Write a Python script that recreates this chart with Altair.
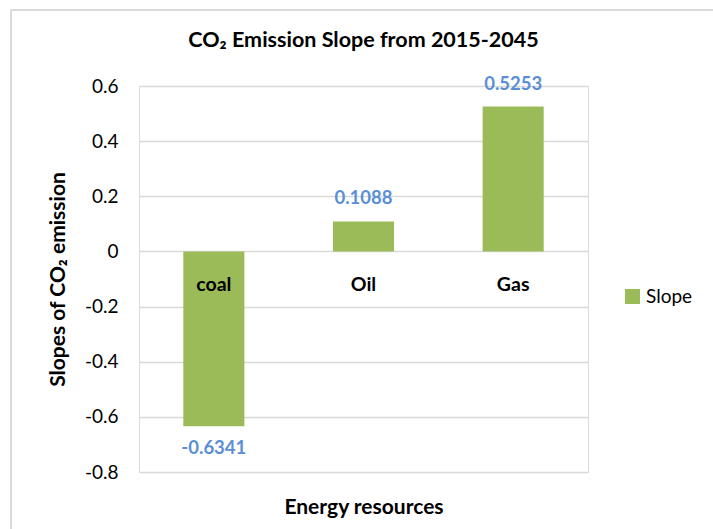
import altair as alt
import pandas as pd

# Slope of CO2 emission by energy resource, 2015-2045
resources = ["coal", "Oil", "Gas"]
slopes = [-0.6341, 0.1088, 0.5253]
series_name = "Slope"
y_ticks = [-0.8, -0.6, -0.4, -0.2, 0, 0.2, 0.4, 0.6]

df = pd.DataFrame({
    "resource": resources,
    "slope": slopes,
    "series": [series_name] * len(resources),
    "label": [f"{v:.4f}" for v in slopes],
    "zero": [0.0] * len(resources),
})

FONT = "Lato"
GREEN = "#9BBB59"
BLUE = "#5A8FD6"
FRAME = "#D9D9D9"

x_enc = alt.X(
    "resource:N",
    sort=resources,
    scale=alt.Scale(paddingInner=0.592, paddingOuter=0.296),
    axis=alt.Axis(
        title="Energy resources",
        labels=False,
        ticks=False,
        domain=False,
        grid=False,
        titleFont=FONT,
        titleFontSize=21,
        titleFontWeight="bold",
        titleColor="black",
        titlePadding=24,
    ),
)

y_scale = alt.Scale(domain=[-0.8, 0.6], nice=False, zero=False)

bars = alt.Chart(df).mark_bar(color=GREEN).encode(
    x=x_enc,
    y=alt.Y(
        "slope:Q",
        scale=y_scale,
        axis=alt.Axis(
            title="Slopes of CO₂ emission",
            values=y_ticks,
            labelExpr="datum.value == 0 ? '0' : replace(format(datum.value, '.1f'), '\u2212', '-')",
            grid=True,
            gridColor=FRAME,
            gridWidth=1.3,
            domain=False,
            ticks=False,
            labelPadding=21,
            labelFont=FONT,
            labelFontSize=19,
            labelColor="black",
            titleFont=FONT,
            titleFontSize=21,
            titleFontWeight="bold",
            titleColor="black",
            titlePadding=16,
        ),
    ),
    color=alt.Color(
        "series:N",
        scale=alt.Scale(range=[GREEN]),
        legend=alt.Legend(
            title=None,
            orient="none",
            legendX=484,
            legendY=201,
            symbolType="square",
            symbolSize=225,
            symbolStrokeWidth=0,
            labelFont=FONT,
            labelFontSize=19,
            labelColor="black",
            labelOffset=4,
        ),
    ),
)

pos_labels = alt.Chart(df).transform_filter("datum.slope >= 0").mark_text(
    font=FONT, fontSize=18.5, fontWeight="bold", color=BLUE, dy=-23, baseline="middle"
).encode(x=alt.X("resource:N", sort=resources), y=alt.Y("slope:Q", scale=y_scale), text="label:N")

neg_labels = alt.Chart(df).transform_filter("datum.slope < 0").mark_text(
    font=FONT, fontSize=18.5, fontWeight="bold", color=BLUE, dy=22, baseline="middle"
).encode(x=alt.X("resource:N", sort=resources), y=alt.Y("slope:Q", scale=y_scale), text="label:N")

cat_labels = alt.Chart(df).mark_text(
    font=FONT, fontSize=19.5, fontWeight="bold", color="black", dy=34, baseline="middle"
).encode(x=alt.X("resource:N", sort=resources), y=alt.Y("zero:Q", scale=y_scale), text="resource:N")

# outer chart frame (left and top edges)
frame_left = alt.Chart(df).mark_rule(color=FRAME, strokeWidth=1.5).encode(
    x=alt.value(-128), y=alt.value(-76), y2=alt.value(460)
)
frame_top = alt.Chart(df).mark_rule(color=FRAME, strokeWidth=1.5).encode(
    x=alt.value(-128), x2=alt.value(600), y=alt.value(-76)
)

chart = alt.layer(frame_left, frame_top, bars, pos_labels, neg_labels, cat_labels).properties(
    width=449,
    height=386,
    autosize=alt.AutoSizeParams(type="none"),
    padding={"left": 139, "top": 86, "right": 125, "bottom": 57},
    title=alt.TitleParams(
        "CO₂ Emission Slope from 2015-2045",
        font=FONT,
        fontSize=21.5,
        fontWeight="bold",
        color="black",
        anchor="middle",
        frame="group",
        offset=-42,
    ),
).configure_view(stroke="transparent", strokeWidth=0).configure(background="white")

chart.save("out.html", embed_options={"renderer": "svg", "actions": False})
